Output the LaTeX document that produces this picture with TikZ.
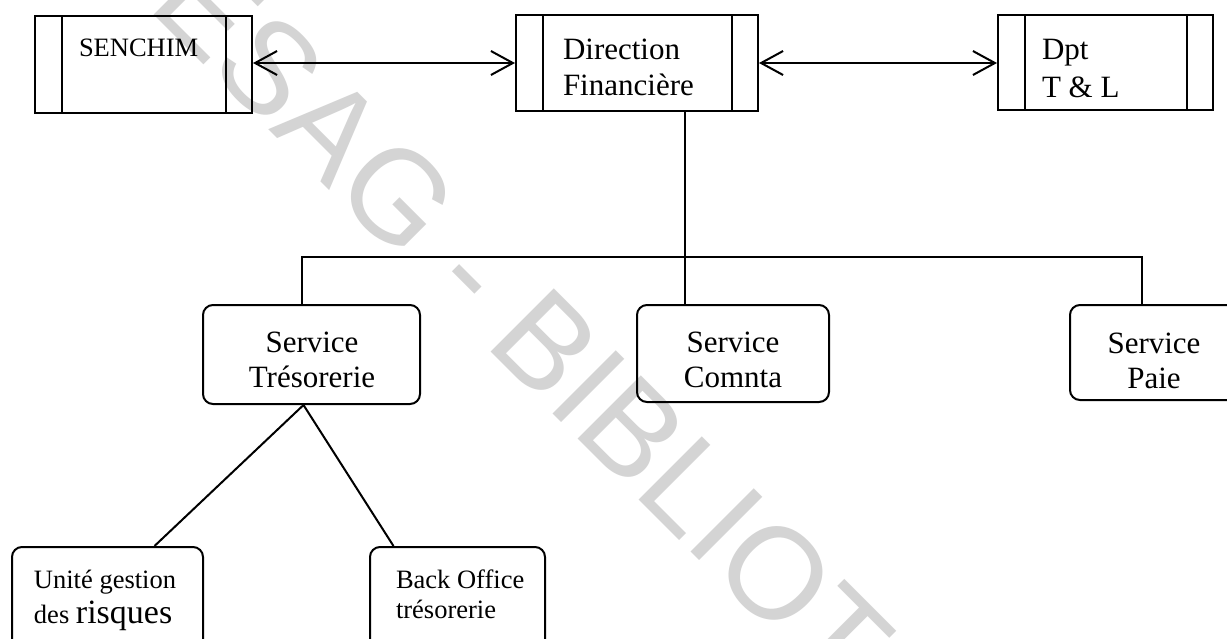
\documentclass[tikz,border=0pt]{standalone}
\usepackage{fontspec}
\setmainfont{Liberation Serif}
\newfontfamily\stampfont{Liberation Sans}
\usetikzlibrary{arrows.meta}
\definecolor{stampgray}{HTML}{D4D4D4}

\begin{document}
\begin{tikzpicture}[x=1pt,y=-1pt,line width=2pt,
  tip/.tip={Straight Barb[length=22pt,width=24pt]},
  procbox/.style={draw, inner sep=0pt, path picture={
    \draw[line width=2pt]
      ([xshift=27pt]path picture bounding box.north west) -- ([xshift=27pt]path picture bounding box.south west)
      ([xshift=-26pt]path picture bounding box.north east) -- ([xshift=-26pt]path picture bounding box.south east);}},
  unitbox/.style={draw, rounded corners=10pt, inner sep=0pt},
  lbl/.style={inner sep=0pt, font=\fontsize{31}{36}\selectfont},
  lblw/.style={lbl, anchor=base west},
  lblc/.style={lbl, anchor=base},
  small/.style={inner sep=0pt, anchor=base west, font=\fontsize{26.5}{30}\selectfont},
  stamp/.style={inner sep=0pt, rotate=-45, text=stampgray,
    font=\stampfont\fontsize{130}{130}\selectfont}]

\useasboundingbox (0,0) rectangle (1227,638);
\clip (0,0) rectangle (1227,638);
\fill[white] (0,0) rectangle (1227,638);

% library stamp behind the chart
\node[stamp] (stamp) at (678,492) {ESAG - BIBLIOTHEQUE};

% top row: partners around the finance direction
\node[procbox, minimum width=217pt, minimum height=97pt] (sen) at (143.5,64.5) {};
\node[procbox, minimum width=242pt, minimum height=96pt] (dir) at (637,63) {};
\node[procbox, minimum width=215pt, minimum height=95pt] (dpt) at (1105.5,62.5) {};

\node[small] (sen-t) at (78,56) {SENCHIM};
\node[lblw] (dir-t1) at (562,59) {Direction};
\node[lblw] (dir-t2) at (562,95) {Financière};
\node[lblw] (dpt-t1) at (1041,59) {Dpt};
\node[lblw] (dpt-t2) at (1041,97) {T \& L};

% services
\node[unitbox, minimum width=217pt, minimum height=99pt] (tres) at (311.5,354.5) {};
\node[unitbox, minimum width=192pt, minimum height=97pt] (compta) at (733,353.5) {};
\node[unitbox, minimum width=168pt, minimum height=95pt] (paie) at (1154,352.5) {};

\node[lblc] (tres-t1) at (312,352) {Service};
\node[lblc] (tres-t2) at (312,387) {Trésorerie};
\node[lblc] (compta-t1) at (733,352) {Service};
\node[lblc] (compta-t2) at (733,387) {Comnta};
\node[lblc] (paie-t1) at (1154,353) {Service};
\node[lblc] (paie-t2) at (1154,388) {Paie};

% treasury units
\node[unitbox, minimum width=191pt, minimum height=110pt] (unite) at (107.5,602) {};
\node[unitbox, minimum width=175pt, minimum height=110pt] (back) at (457.5,602) {};

\node[small] (unite-t1) at (33,588) {Unité gestion};
\node[small] (unite-t2) at (33,623) {des {\fontsize{34}{34}\selectfont risques}};
\node[small] (back-t1) at (395,588) {Back Office};
\node[small] (back-t2) at (395,618) {trésorerie};

% exchanges between the top boxes
\draw[tip-tip] (dir.west -| sen.east) -- (dir.west);
\draw[tip-tip] (dir.east) -- (dir.east -| dpt.west);

% hierarchy
\coordinate (jt) at (302,257);
\coordinate (jc) at (685,257);
\coordinate (jp) at (1142,257);
\draw (jc |- dir.south) -- (jc |- compta.north);
\draw (jt |- tres.north) -- (jt) -- (jp) -- (jp |- paie.north);
\draw ([xshift=47pt]unite.north) -- ([xshift=-8pt]tres.south) -- ([xshift=-64pt]back.north);
\end{tikzpicture}
\end{document}
